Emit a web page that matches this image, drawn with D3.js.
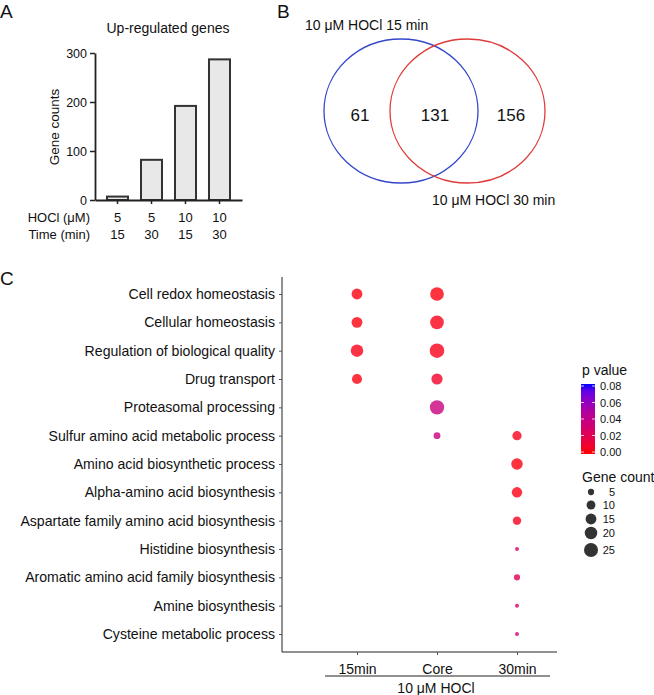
<!doctype html>
<html>
<head>
<script src="https://d3js.org/d3.v7.min.js"></script>
<style>
  body { margin: 0; background: #fff; }
  text { font-family: "Liberation Sans", Arial, sans-serif; fill: #111; }
</style>
</head>
<body>
<div id="chart"></div>
<script>
// ---- panel A data
const hoclConc = [5, 5, 10, 10];
const timeMin = [15, 30, 15, 30];
const upCounts = [7, 82, 192, 287];
const countTicks = [0, 100, 200, 300];

// ---- panel B data
const vennLabels = ["10 \u03BCM HOCl 15 min", "10 \u03BCM HOCl 30 min"];
const only15 = 61, shared = 131, only30 = 156;

// ---- panel C data
const goTerms = [
  "Cell redox homeostasis", "Cellular homeostasis", "Regulation of biological quality",
  "Drug transport", "Proteasomal processing", "Sulfur amino acid metabolic process",
  "Amino acid biosynthetic process", "Alpha-amino acid biosynthesis",
  "Aspartate family amino acid biosynthesis", "Histidine biosynthesis",
  "Aromatic amino acid family biosynthesis", "Amine biosynthesis", "Cysteine metabolic process"
];
const goGroups = ["15min", "Core", "30min"];
const count15   = [15, 15, 20, 13, null, null, null, null, null, null, null, null, null];
const countCore = [24, 24, 27, 16, 26, 6, null, null, null, null, null, null, null];
const count30   = [null, null, null, null, null, 11, 17, 14, 9, 2, 5, 2, 2];
const p15   = [0.002, 0.002, 0.003, 0.002, null, null, null, null, null, null, null, null, null];
const pCore = [0.002, 0.003, 0.004, 0.008, 0.036, 0.036, null, null, null, null, null, null, null];
const p30   = [null, null, null, null, null, 0.004, 0.002, 0.003, 0.005, 0.03, 0.022, 0.028, 0.032];
const pTicks = [0, 0.02, 0.04, 0.06, 0.08];
const sizeTicks = [5, 10, 15, 20, 25];

const svg = d3.select("#chart").append("svg")
  .attr("width", 654).attr("height", 695);

function letter(t, x, y) {
  svg.append("text").attr("x", x).attr("y", y).attr("font-size", 19).text(t);
}
letter("A", 0, 18);
letter("B", 277, 18);
letter("C", 0, 285);

// ================= Panel A =================
const yA = d3.scaleLinear().domain([0, 300]).range([200, 53]);
const xA = d3.scaleBand().domain(d3.range(4)).range([95, 242])
  .paddingInner(0.382).paddingOuter(0.353);

svg.append("text").attr("x", 168).attr("y", 33).attr("text-anchor", "middle")
  .attr("font-size", 14).text("Up-regulated genes");

svg.append("text").attr("transform", "translate(59,127) rotate(-90)")
  .attr("text-anchor", "middle").attr("font-size", 13.5).text("Gene counts");

const axA = svg.append("g").attr("transform", "translate(95,0)")
  .call(d3.axisLeft(yA).tickValues(countTicks).tickSize(5).tickSizeOuter(0));
axA.select(".domain").attr("stroke", "#222").attr("stroke-width", 1.8);
axA.selectAll(".tick line").attr("stroke", "#222").attr("stroke-width", 1.5);
axA.selectAll(".tick text").attr("font-size", 12.5).attr("fill", "#111")
  .style("font-family", "'Liberation Sans', Arial, sans-serif");

svg.selectAll("rect.bar").data(upCounts).enter().append("rect")
  .attr("class", "bar")
  .attr("x", (d, i) => xA(i))
  .attr("y", d => yA(d))
  .attr("width", xA.bandwidth())
  .attr("height", d => yA(0) - yA(d))
  .attr("fill", "#e8e8e8").attr("stroke", "#333").attr("stroke-width", 2);

const axAx = svg.append("g").attr("transform", "translate(0,200)")
  .call(d3.axisBottom(xA).tickSize(4).tickSizeOuter(0).tickFormat(""));
axAx.select(".domain").attr("stroke", "#222").attr("stroke-width", 1.8);
axAx.selectAll(".tick line").attr("stroke", "#222").attr("stroke-width", 1.5);

svg.append("text").attr("x", 90).attr("y", 222).attr("text-anchor", "end")
  .attr("font-size", 13).text("HOCl (\u03BCM)");
svg.append("text").attr("x", 90).attr("y", 239).attr("text-anchor", "end")
  .attr("font-size", 13).text("Time (min)");
svg.selectAll("text.conc").data(hoclConc).enter().append("text")
  .attr("class", "conc").attr("x", (d, i) => xA(i) + xA.bandwidth() / 2).attr("y", 222)
  .attr("text-anchor", "middle").attr("font-size", 13).text(d => d);
svg.selectAll("text.time").data(timeMin).enter().append("text")
  .attr("class", "time").attr("x", (d, i) => xA(i) + xA.bandwidth() / 2).attr("y", 239)
  .attr("text-anchor", "middle").attr("font-size", 13).text(d => d);

// ================= Panel B =================
svg.append("ellipse").attr("cx", 401).attr("cy", 111).attr("rx", 77).attr("ry", 72)
  .attr("fill", "none").attr("stroke", "#3447c9").attr("stroke-width", 1.3);
svg.append("ellipse").attr("cx", 467.5).attr("cy", 111).attr("rx", 77.5).attr("ry", 72)
  .attr("fill", "none").attr("stroke", "#e03a3a").attr("stroke-width", 1.3);
svg.append("text").attr("x", 305).attr("y", 30).attr("font-size", 14).text(vennLabels[0]);
svg.append("text").attr("x", 432).attr("y", 205).attr("font-size", 14).text(vennLabels[1]);
[[360, only15], [435, shared], [511, only30]].forEach(([x, v]) => {
  svg.append("text").attr("x", x).attr("y", 121).attr("text-anchor", "middle")
    .attr("font-size", 17).text(v);
});

// ================= Panel C =================
const xC = d3.scalePoint().domain(goGroups).range([357, 517]);
const yC = d3.scalePoint().domain(goTerms).range([294, 634]);
const rC = d3.scaleSqrt().domain([0, 25]).range([0, 7]);
const colC = d3.scaleLinear().domain([0, 0.08]).range(["red", "blue"])
  .interpolate(d3.interpolateLab);

// axis lines
svg.append("line").attr("x1", 282).attr("x2", 282).attr("y1", 277).attr("y2", 652)
  .attr("stroke", "#222").attr("stroke-width", 1);
svg.append("line").attr("x1", 282).attr("x2", 557).attr("y1", 652).attr("y2", 652)
  .attr("stroke", "#222").attr("stroke-width", 1);

const axCy = svg.append("g").attr("transform", "translate(282,0)")
  .call(d3.axisLeft(yC).tickSize(3).tickPadding(4));
axCy.select(".domain").remove();
axCy.selectAll(".tick line").attr("stroke", "#555");
axCy.selectAll(".tick text").attr("font-size", 14.1).attr("fill", "#111")
  .style("font-family", "'Liberation Sans', Arial, sans-serif");

const axCx = svg.append("g").attr("transform", "translate(0,652)")
  .call(d3.axisBottom(xC).tickSize(3).tickPadding(9));
axCx.select(".domain").remove();
axCx.selectAll(".tick line").attr("stroke", "#555");
axCx.selectAll(".tick text").attr("font-size", 14).attr("fill", "#111")
  .style("font-family", "'Liberation Sans', Arial, sans-serif");

svg.append("line").attr("x1", 325).attr("x2", 550).attr("y1", 676).attr("y2", 676)
  .attr("stroke", "#222").attr("stroke-width", 1);
svg.append("text").attr("x", 436).attr("y", 693).attr("text-anchor", "middle")
  .attr("font-size", 14).text("10 \u03BCM HOCl");

const dots = [];
[[count15, p15], [countCore, pCore], [count30, p30]].forEach(([cs, ps], gi) => {
  cs.forEach((c, ti) => {
    if (c != null) dots.push({ term: goTerms[ti], group: goGroups[gi], count: c, p: ps[ti] });
  });
});
svg.selectAll("circle.dot").data(dots).enter().append("circle")
  .attr("class", "dot")
  .attr("cx", d => xC(d.group))
  .attr("cy", d => yC(d.term))
  .attr("r", d => rC(d.count))
  .attr("fill", d => colC(d.p))
  .attr("fill-opacity", 0.8);

// ---- legend: p value colour bar
svg.append("text").attr("x", 582).attr("y", 375).attr("font-size", 14).text("p value");
const grad = svg.append("defs").append("linearGradient").attr("id", "pgrad")
  .attr("x1", 0).attr("x2", 0).attr("y1", 1).attr("y2", 0);
d3.range(0, 1.01, 0.1).forEach(t => {
  grad.append("stop").attr("offset", t).attr("stop-color", colC(t * 0.08));
});
const yP = d3.scaleLinear().domain([0, 0.08]).range([452, 386]);
svg.append("rect").attr("x", 581).attr("y", 384).attr("width", 14).attr("height", 70)
  .attr("fill", "url(#pgrad)");
svg.selectAll("line.pt").data(pTicks).enter().append("line")
  .attr("class", "pt").attr("x1", 581).attr("x2", 584)
  .attr("y1", d => yP(d)).attr("y2", d => yP(d)).attr("stroke", "#fff").attr("stroke-width", 0.8);
svg.selectAll("line.pt2").data(pTicks).enter().append("line")
  .attr("class", "pt2").attr("x1", 592).attr("x2", 595)
  .attr("y1", d => yP(d)).attr("y2", d => yP(d)).attr("stroke", "#fff").attr("stroke-width", 0.8);
svg.selectAll("text.pl").data(pTicks).enter().append("text")
  .attr("class", "pl").attr("x", 600).attr("y", d => yP(d) + 4)
  .attr("font-size", 11).attr("fill", "#222").text(d => d3.format(".2f")(d));

// ---- legend: gene count sizes
svg.append("text").attr("x", 582).attr("y", 482).attr("font-size", 14).text("Gene count");
const sizeY = [492, 505, 519, 533, 550];
svg.selectAll("circle.sl").data(sizeTicks).enter().append("circle")
  .attr("class", "sl").attr("cx", 591).attr("cy", (d, i) => sizeY[i])
  .attr("r", d => rC(d)).attr("fill", "#333");
svg.selectAll("text.sn").data(sizeTicks).enter().append("text")
  .attr("class", "sn").attr("x", 615).attr("y", (d, i) => sizeY[i] + 4)
  .attr("text-anchor", "end").attr("font-size", 11).attr("fill", "#222").text(d => d);
</script>
</body>
</html>
